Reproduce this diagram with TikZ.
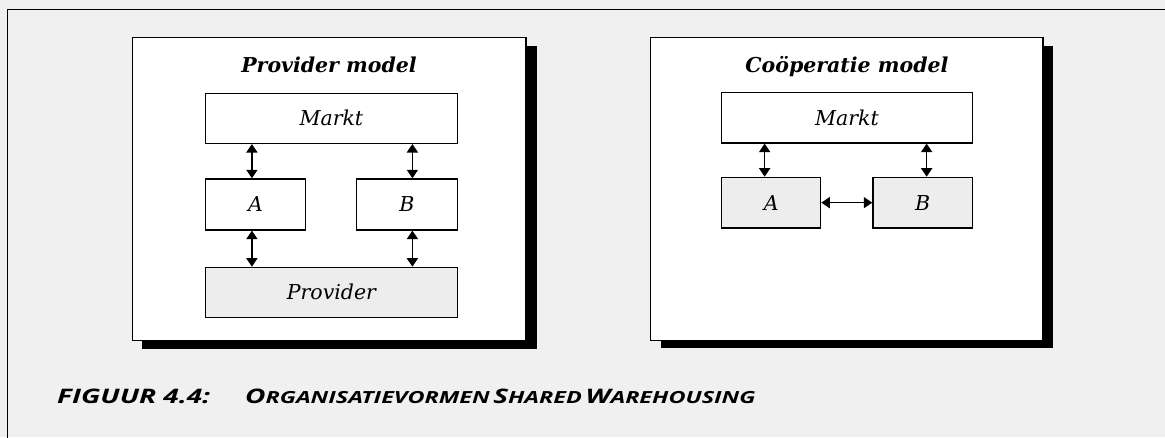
\documentclass[tikz,border=0pt]{standalone}
\usepackage{fontspec}
\setmainfont{DejaVu Serif}
\newfontfamily\capfont[FakeStretch=1.4]{Open Sans}
\usetikzlibrary{arrows.meta}

% small-caps lettering built from two sizes
\newcommand{\capbig}[1]{{\fontsize{20}{20}\selectfont #1}}
\newcommand{\capsmall}[1]{{\fontsize{16.7}{16}\selectfont #1}}

\definecolor{paper}{gray}{0.94}
\definecolor{tint}{gray}{0.93}

\begin{document}
\begin{tikzpicture}[x=1pt,y=-1pt,
  panel/.style={draw=black, line width=1.3pt, fill=white},
  shade/.style={fill=black},
  box/.style={draw=black, line width=1.3pt, fill=white, anchor=north west,
    inner sep=0pt, font=\fontsize{20.5}{22}\selectfont\itshape},
  tinted/.style={fill=tint},
  title/.style={anchor=base, inner sep=0pt,
    font=\fontsize{20.5}{22}\selectfont\bfseries\itshape},
  caption/.style={anchor=base west, inner sep=0pt, font=\capfont\bfseries\itshape},
  biarrow/.style={line width=1.6pt,
    {Triangle[width=11pt,length=8.5pt]}-{Triangle[width=11pt,length=8.5pt]}}
]
\useasboundingbox (0,0) rectangle (1165,437);
\fill[paper] (0,0) rectangle (1165,437);

% page frame, running off the right and bottom edges
\draw[line width=1.6pt] (7.3,460) -- (7.3,9.3) -- (1190,9.3);

% ---- Provider model ----
\fill[shade] (142.3,45.5) rectangle (536.7,348.5);
\draw[panel] (132.3,37.3) rectangle (526,340.5);
\node[title] (t1) at (329,72.7) {Provider model};

\node[box, minimum width=251.5pt, minimum height=50pt] (m1) at (205,92.7) {Markt};
\node[box, minimum width=99.5pt, minimum height=51pt] (a1) at (205,178.3) {A};
\node[box, minimum width=100.5pt, minimum height=51pt] (b1) at (356,178.3) {B};
\node[box, tinted, minimum width=251.5pt, minimum height=50pt] (p1) at (205,266.7) {Provider};

\draw[biarrow] ([xshift=-3.5pt]a1.north |- m1.south) -- ([xshift=-3.5pt]a1.north);
\draw[biarrow] ([xshift=5.5pt]b1.north |- m1.south) -- ([xshift=5.5pt]b1.north);
\draw[biarrow] ([xshift=-3.5pt]a1.south) -- ([xshift=-3.5pt]a1.south |- p1.north);
\draw[biarrow] ([xshift=5.5pt]b1.south) -- ([xshift=5.5pt]b1.south |- p1.north);

% ---- Cooperatie model ----
\fill[shade] (660.7,45.5) rectangle (1053.3,348.3);
\draw[panel] (650.7,37.3) rectangle (1043,340.3);
\node[title] (t2) at (846.9,72.7) {Coöperatie model};

\node[box, minimum width=250.7pt, minimum height=50.6pt] (m2) at (721,91.7) {Markt};
\node[box, tinted, minimum width=99pt, minimum height=50.6pt] (a2) at (721,176.7) {A};
\node[box, tinted, minimum width=99.4pt, minimum height=50.6pt] (b2) at (872.3,176.7) {B};

\draw[biarrow] ([xshift=-6.5pt]a2.north |- m2.south) -- ([xshift=-6.5pt]a2.north);
\draw[biarrow] ([xshift=4pt]b2.north |- m2.south) -- ([xshift=4pt]b2.north);
\draw[biarrow] (a2.east) -- (b2.west);

% ---- caption ----
\node[caption] (c1) at (57,403.5) {\capbig{FIGUUR 4.4:}};
\node[caption] (c2) at (245,403.5) {\capbig{O}\capsmall{RGANISATIEVORMEN} \capbig{S}\capsmall{HARED} \capbig{W}\capsmall{AREHOUSING}};
\end{tikzpicture}
\end{document}
